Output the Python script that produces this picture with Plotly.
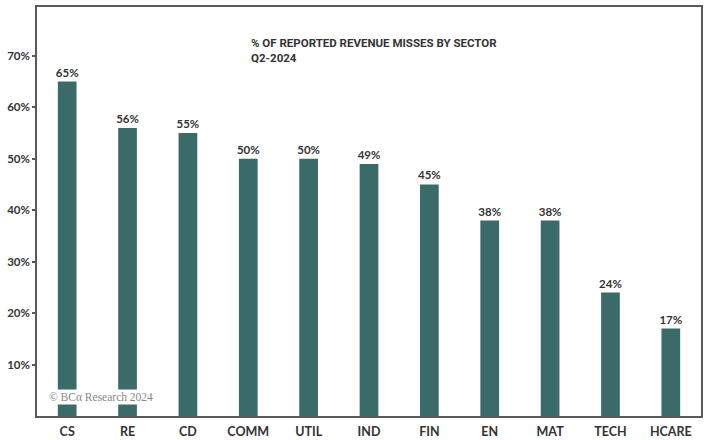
import plotly.graph_objects as go

sectors = ["CS", "RE", "CD", "COMM", "UTIL", "IND", "FIN", "EN", "MAT", "TECH", "HCARE"]
miss_pct = [65, 56, 55, 50, 50, 49, 45, 38, 38, 24, 17]
y_ticks = [10, 20, 30, 40, 50, 60, 70]
y_tick_labels = ["10%", "20%", "30%", "40%", "50%", "60%", "70%"]

bar_color = "#3b6b69"
text_color = "#333333"
font_family = "Lato, 'Open Sans', sans-serif"

fig = go.Figure(go.Bar(
    x=sectors,
    y=miss_pct,
    marker=dict(color=bar_color, line=dict(width=0)),
    text=[f"{v}%" for v in miss_pct],
    textposition="outside",
    constraintext="none",
    textfont=dict(family=font_family, size=11.5, color=text_color, weight="bold"),
    cliponaxis=False,
    width=0.31,
))

fig.update_layout(
    width=708, height=440,
    margin=dict(l=37, r=7, t=7, b=24),
    paper_bgcolor="white",
    plot_bgcolor="white",
    showlegend=False,
    font=dict(family=font_family, color=text_color),
    xaxis=dict(
        showline=True, linecolor="#5a5a5a", linewidth=1.5, mirror=True,
        showgrid=False, ticks="outside", ticklen=3, tickcolor="rgba(0,0,0,0)",
        tickfont=dict(family=font_family, size=12.5, color=text_color, weight="bold"),
        automargin=False,
    ),
    yaxis=dict(
        range=[0, 79.5],
        showline=True, linecolor="#5a5a5a", linewidth=1.5, mirror=True,
        showgrid=False, zeroline=False,
        tickvals=y_ticks, ticktext=y_tick_labels,
        ticks="outside", ticklen=3, tickcolor="#5a5a5a", tickwidth=1.5,
        tickfont=dict(family=font_family, size=11.5, color=text_color, weight="bold"),
        automargin=False,
    ),
    annotations=[
        dict(
            text="% OF REPORTED REVENUE MISSES BY SECTOR<br>Q2-2024",
            xref="paper", yref="paper", x=0.32, y=0.935,
            xanchor="left", yanchor="top", align="left", showarrow=False,
            font=dict(family="Roboto, sans-serif", size=11.5, color=text_color, weight="bold"),
        ),
        dict(
            text="© BCα Research 2024",
            xref="paper", yref="paper", x=0.015, y=0.047,
            xanchor="left", yanchor="middle", showarrow=False,
            bgcolor="white",
            font=dict(family="Liberation Serif, serif", size=11.5, color="#888888"),
        ),
    ],
)

fig.write_html(
    "out.html",
    config={"displayModeBar": False},
    post_script="document.body.style.margin='0';document.body.style.overflow='hidden';",
)
